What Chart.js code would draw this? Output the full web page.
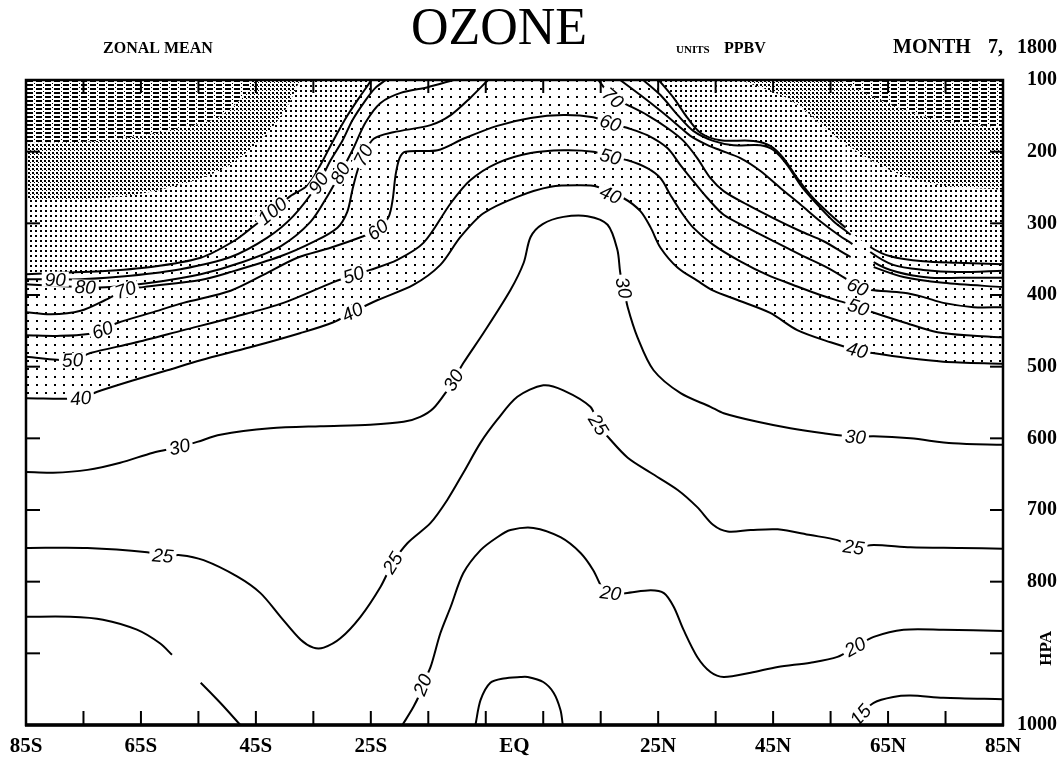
<!DOCTYPE html>
<html>
<head>
<meta charset="utf-8">
<title>Ozone zonal mean</title>
<script src="https://cdn.jsdelivr.net/npm/chart.js@4.4.1/dist/chart.umd.min.js"></script>
<style>
  html, body { margin: 0; padding: 0; background: #fff; }
  #wrap { width: 1062px; height: 761px; }
</style>
</head>
<body>
<div id="wrap"><canvas id="c" width="1062" height="761"></canvas></div>
<script>
// ---- axes ----------------------------------------------------------------
const latTicks = [-85, -65, -45, -25, 0, 25, 45, 65, 85];
const latTickLabels = ['85S', '65S', '45S', '25S', 'EQ', '25N', '45N', '65N', '85N'];
const latMinorTicks = [-75, -65, -55, -45, -35, -25, -15, -5, 5, 15, 25, 35, 45, 55, 65, 75];
const pressureTicks = [100, 200, 300, 400, 500, 600, 700, 800, 900, 1000];
const pressureTickLabels = ['100', '200', '300', '400', '500', '600', '700', '800', 'HPA', '1000'];

// ---- contour lines: [latitude, pressure hPa] ------------------------------
const c100West = [[-85,371],[-79,369],[-72,367],[-63.3,361],[-54.6,348],[-48.9,325],[-45.4,304],[-42.1,283],[-39,262],[-36,247],[-33.8,219],[-31.5,184],[-29.1,150],[-26.8,122],[-25.4,106],[-24.9,100]];
const c100East = [[25.1,100],[27.7,125],[30.1,153],[32.4,174],[35.8,184],[41.6,185],[44.5,192],[46.8,209],[49.2,237],[52,265],[55,288],[57.6,306],[61.9,333],[65.4,346],[71.1,353],[77,355],[85,357]];
const c90West = [[-85,378],[-79.9,378],[-75.5,378],[-66.8,373],[-58.1,364],[-49.4,347],[-43,320],[-38.5,290],[-34.1,244],[-32,212],[-29.9,184],[-28.2,156],[-25.9,128],[-24.2,111],[-22.4,100]];
const c90East = [[22.4,100],[25.4,121],[28.4,149],[31.1,171],[34.6,185],[38.1,191],[42.8,191],[45.1,198],[47.5,219],[49.8,247],[52.7,274],[55.5,297],[58.5,316],[61.9,340],[65.9,358],[71.1,365],[77,368],[85,366]];
const c80West = [[-85,385],[-74.7,389],[-70.3,389],[-63.3,383],[-54.6,371],[-47.7,355],[-40.7,332],[-35.5,298],[-32.4,260],[-30.3,230],[-28.2,198],[-25.9,159],[-23.3,132],[-19.8,118],[-15.1,110],[-10.6,100]];
const c80East = [[18.4,100],[21.9,121],[25.4,143],[28.4,163],[30.6,178],[33.6,191],[35.8,198],[39.3,209],[42.8,227],[46.3,251],[49.8,274],[53.2,297],[56.7,318],[58.8,329],[62.5,354],[66.6,368],[72.4,376],[77.6,376],[85,376]];
const c70West = [[-85,424],[-80.7,427],[-75.5,422],[-71.2,407],[-67.7,393],[-64.6,389],[-54.6,379],[-49.4,368],[-40.7,346],[-35,326],[-30.8,306],[-29.1,284],[-28.2,253],[-27.3,226],[-26.3,205],[-24.5,182],[-21.1,173],[-14.6,163],[-11.1,149],[-7.7,125],[-4.6,100]];
const c70East = [[14.6,100],[17.1,125],[19.7,135],[23.1,149],[26.6,167],[29.4,185],[31.8,209],[34.1,237],[36.4,255],[40.5,274],[45.1,293],[49.8,311],[53.8,325],[58.5,347],[62.5,361],[67.7,375],[74.6,383],[85,389]];
const c60 = [[-85,456],[-79,457],[-73.8,454],[-71.7,449],[-69.1,439],[-63.3,425],[-57.6,411],[-49.4,394],[-43.7,372],[-37.8,348],[-32,334],[-26.3,318],[-23.8,309],[-21.9,291],[-21.2,267],[-20.7,233],[-20,209],[-19,200],[-13.4,198],[-8.9,182],[-3,164],[2.8,153],[8.5,149],[13.7,152],[16.7,160],[19.7,167],[23.1,177],[26.6,195],[28.9,219],[31.1,241],[33.6,265],[36.4,288],[40.5,306],[45.1,325],[49.8,344],[54.5,362],[58,379],[59.7,389],[62,393],[67.7,397],[71.2,403],[74.6,411],[79.9,417],[85,417]];
const c50 = [[-85,486],[-76.9,491],[-73.8,481],[-66.3,467],[-57.6,449],[-48.9,431],[-40.2,411],[-31.5,382],[-28,372],[-25.1,365],[-20.4,351],[-15.8,327],[-11.1,272],[-7.7,240],[-3,216],[2.8,202],[8.5,198],[13.7,200],[16.7,207],[19.7,212],[23.1,223],[25.4,237],[27.1,260],[28.9,283],[31.1,306],[34.6,330],[39.3,353],[44,372],[48.5,386],[53.2,400],[57.2,410],[59.8,417],[62.3,424],[67.7,438],[73.6,452],[79.9,457],[85,459]];
const c40 = [[-85,544],[-75.5,544],[-72.6,535],[-66.3,519],[-60.4,505],[-54.6,491],[-46,473],[-37.2,453],[-31.5,438],[-28.2,424],[-23.8,407],[-17.6,386],[-12.9,358],[-9.4,319],[-5.4,286],[0.5,263],[6.3,249],[11.5,247],[14.4,249],[16.7,260],[19,265],[21.9,283],[23.7,306],[25.4,334],[28.4,362],[31.8,380],[34.6,394],[38.8,407],[44.5,425],[49.2,449],[55,466],[59.6,477],[62.3,481],[68.4,488],[74.6,493],[85,496]];
const c30 = [[-85,647],[-80.3,648],[-74.3,644],[-68.6,634],[-62.9,620],[-58.3,612],[-55.2,605],[-51.2,595],[-42.5,586],[-33.8,583],[-25.1,581],[-19.3,577],[-16.4,570],[-14.1,558],[-11.7,533],[-10.6,519],[-8.9,495],[-5.4,453],[-0.7,393],[1.6,355],[2.8,319],[4.9,301],[8.5,291],[12.7,290],[16.2,302],[17.9,337],[18.4,369],[19,390],[19.7,417],[21.4,459],[24.2,505],[28.9,537],[34.1,556],[36.4,565],[42.3,577],[48,586],[53.8,593],[59.3,598],[62.5,597],[68.9,600],[76.3,607],[85,609]];
const c25 = [[-85,753],[-74.3,753],[-63.9,759],[-61.2,764],[-58.1,763],[-54.1,770],[-48.2,793],[-44.2,816],[-40.7,849],[-37.2,881],[-35,892],[-33.2,892],[-30.3,879],[-26.8,849],[-23.3,807],[-21.2,774],[-18.6,746],[-14.6,718],[-11.7,686],[-8.9,648],[-5.9,606],[-3,574],[0.5,542],[5,526],[8.5,533],[13.2,556],[14.6,581],[16.7,602],[19.7,627],[23.7,648],[28.4,672],[31.8,696],[34.6,721],[37.1,730],[41.1,728],[45.8,727],[51.5,735],[56.2,742],[59,752],[62.5,749],[68.9,752],[77.6,753],[85,754]];
const c20West = [[-85,849],[-77.3,849],[-71.6,853],[-65.7,867],[-61.7,886],[-59.6,902],[-54.6,941],[-51.2,969],[-47.7,1000]];
const c20East = [[-19.5,1000],[-17.6,975],[-16.4,955],[-16,944],[-14.6,919],[-12.9,872],[-11.1,835],[-8.9,788],[-5.9,756],[-3,738],[-0.7,728],[3.3,725],[8,738],[11.5,760],[13.7,784],[15.5,812],[16.7,816],[19.3,816],[23.7,812],[26,816],[27.7,835],[29.4,867],[31.8,905],[34.1,926],[36.4,933],[41.1,927],[45.8,919],[51.5,913],[56.2,905],[59.3,891],[62.5,877],[67.7,867],[74.6,867],[85,869]];
const c15Center = [[-6.8,1000],[-5.9,965],[-4.2,941],[-1.9,935],[1,933],[2.3,933],[5,940],[6.8,955],[8,979],[8.4,1000]];
const c15East = [[59,1000],[60.2,986],[62.5,969],[65.9,961],[68.9,959],[74.6,962],[85,964]];

// ---- edges of the denser stipple bands above the 100 ppbv line -----------
const denseWest = [[-85,267],[-72,265],[-61.6,253],[-51.2,226],[-44.2,184],[-39.9,142],[-37.3,100]];
const denseEast = [[39.3,100],[48,128],[56.7,184],[65.4,226],[74.1,247],[85,253]];
const darkWest = [[-85,188],[-70.9,184],[-58.2,167],[-51.8,153],[-47.8,128],[-45.2,100]];
const darkEast = [[56.7,100],[63.7,128],[72.4,153],[85,167]];

// ---- stipple patterns ------------------------------------------------------
const canvas = document.getElementById('c');
const g = canvas.getContext('2d');
function makePattern(w, h, rects) {
  const t = document.createElement('canvas');
  t.width = w; t.height = h;
  const tc = t.getContext('2d');
  tc.fillStyle = '#fff';
  tc.fillRect(0, 0, w, h);
  tc.fillStyle = '#000';
  rects.forEach(r => tc.fillRect(r[0], r[1], r[2], r[3]));
  return g.createPattern(t, 'repeat');
}
const patterns = {
  sparse: makePattern(9, 8, [[0, 0, 2, 2]]),
  medium: makePattern(5, 5, [[0, 0, 2, 2]]),
  dense: makePattern(4, 4, [[0, 0, 2, 2], [2, 2, 1, 1]]),
  dark: makePattern(9, 4, [[0, 0, 6, 2], [7, 3, 1, 1]])
};
const shadeOrder = { sparse: 4, medium: 3, dense: 2, dark: 1 };

const contours = [
  { level: 100, pts: c100West, labelsAt: [-42.1], gaps: [], shade: 'medium' },
  { level: 100, pts: c100East, labelsAt: [], gaps: [[57.6, 61.9]], shade: 'medium' },
  { level: 90, pts: c90West, labelsAt: [-79.9, -34.1], gaps: [] },
  { level: 90, pts: c90East, labelsAt: [], gaps: [[58.5, 61.9]] },
  { level: 80, pts: c80West, labelsAt: [-74.7, -30.3], gaps: [] },
  { level: 80, pts: c80East, labelsAt: [], gaps: [[58.8, 62.5]] },
  { level: 70, pts: c70West, labelsAt: [-67.7, -26.3], gaps: [] },
  { level: 70, pts: c70East, labelsAt: [17.1], gaps: [[58.5, 62.5]] },
  { level: 60, pts: c60, labelsAt: [-71.7, -23.8, 16.7, 59.7], gaps: [] },
  { level: 50, pts: c50, labelsAt: [-76.9, -28, 16.7, 59.8], gaps: [] },
  { level: 40, pts: c40, labelsAt: [-75.5, -28.2, 16.7, 59.6], gaps: [], shade: 'sparse' },
  { level: 30, pts: c30, labelsAt: [-58.3, -10.6, 19, 59.3], gaps: [] },
  { level: 25, pts: c25, labelsAt: [-61.2, -21.2, 14.6, 59], gaps: [] },
  { level: 20, pts: c20West, labelsAt: [], gaps: [[-59.6, -54.6]] },
  { level: 20, pts: c20East, labelsAt: [-16, 16.7, 59.3], gaps: [] },
  { level: 15, pts: c15Center, labelsAt: [], gaps: [] },
  { level: 15, pts: c15East, labelsAt: [60.2], gaps: [] }
];
const bandEdges = [
  { pts: denseWest, shade: 'dense' }, { pts: denseEast, shade: 'dense' },
  { pts: darkWest, shade: 'dark' }, { pts: darkEast, shade: 'dark' }
];

const toXY = pts => pts.map(([lat, p]) => ({ x: lat, y: p }));
const inGap = (gaps, a, b) => gaps.some(([s, e]) => a >= s - 1e-6 && b <= e + 1e-6);

const datasets = [];
contours.forEach(c => {
  datasets.push({
    data: toXY(c.pts),
    borderColor: '#000',
    borderWidth: 2,
    pointRadius: 0,
    tension: 0.3,
    fill: c.shade ? { value: 100 } : false,
    backgroundColor: c.shade ? patterns[c.shade] : 'transparent',
    order: c.shade ? shadeOrder[c.shade] : 0,
    segment: {
      borderColor: ctx => inGap(c.gaps, ctx.p0.parsed.x, ctx.p1.parsed.x) ? 'rgba(0,0,0,0)' : '#000'
    }
  });
});
bandEdges.forEach(b => {
  datasets.push({
    data: toXY(b.pts),
    borderColor: 'rgba(0,0,0,0)',
    borderWidth: 0,
    pointRadius: 0,
    tension: 0.3,
    fill: { value: 100 },
    backgroundColor: patterns[b.shade],
    order: shadeOrder[b.shade]
  });
});

const serifBold = size => ({ family: '"Liberation Serif", "DejaVu Serif", serif', size: size, weight: 'bold' });

// contour value labels, cut into their lines
const contourLabels = {
  id: 'contourLabels',
  afterDatasetsDraw(chart) {
    const { ctx, chartArea: a, scales: { x, y } } = chart;
    ctx.save();
    ctx.beginPath();
    ctx.rect(a.left, a.top, a.right - a.left, a.bottom - a.top);
    ctx.clip();
    ctx.font = 'italic 19px "Liberation Sans", sans-serif';
    ctx.textAlign = 'center';
    ctx.textBaseline = 'middle';
    contours.forEach(c => {
      c.labelsAt.forEach(lat => {
        let i = 0, best = Infinity;
        c.pts.forEach((pt, k) => { const d = Math.abs(pt[0] - lat); if (d < best) { best = d; i = k; } });
        const p0 = c.pts[Math.max(i - 1, 0)], p1 = c.pts[Math.min(i + 1, c.pts.length - 1)];
        const px = x.getPixelForValue(c.pts[i][0]), py = y.getPixelForValue(c.pts[i][1]);
        let ang = Math.atan2(y.getPixelForValue(p1[1]) - y.getPixelForValue(p0[1]),
                             x.getPixelForValue(p1[0]) - x.getPixelForValue(p0[0]));
        if (ang > Math.PI / 2) ang -= Math.PI;
        if (ang < -Math.PI / 2) ang += Math.PI;
        const text = String(c.level);
        const w = ctx.measureText(text).width;
        ctx.save();
        ctx.translate(px, py);
        ctx.rotate(ang);
        ctx.fillStyle = '#fff';
        ctx.fillRect(-w / 2 - 3, -7.5, w + 6, 15);
        ctx.fillStyle = '#000';
        ctx.fillText(text, 0, 1);
        ctx.restore();
      });
    });
    ctx.restore();
  }
};

// frame, inner tick marks, heading and the rotated unit label
const frameAndText = {
  id: 'frameAndText',
  afterDraw(chart) {
    const { ctx, chartArea: a, scales: { x, y } } = chart;
    const seg = (x1, y1, x2, y2) => { ctx.beginPath(); ctx.moveTo(x1, y1); ctx.lineTo(x2, y2); ctx.stroke(); };
    ctx.save();
    ctx.strokeStyle = '#000';
    ctx.lineWidth = 2;
    latMinorTicks.forEach(v => {
      const px = x.getPixelForValue(v);
      seg(px, a.bottom, px, a.bottom - 14);
      seg(px, a.top, px, a.top + 13);
    });
    pressureTicks.slice(1, -1).forEach(v => {
      const py = y.getPixelForValue(v);
      seg(a.left, py, a.left + 14, py);
      seg(a.right, py, a.right - 13, py);
    });
    ctx.lineWidth = 2.5;
    ctx.strokeRect(a.left, a.top, a.right - a.left, a.bottom - a.top);
    ctx.lineWidth = 3.5;
    seg(a.left - 1, a.bottom, a.right + 1, a.bottom);

    ctx.fillStyle = '#000';
    ctx.textBaseline = 'alphabetic';
    ctx.font = '52px "Liberation Serif", serif';
    ctx.textAlign = 'center';
    ctx.fillText('OZONE', 499, 44);
    ctx.font = 'bold 16px "Liberation Serif", serif';
    ctx.fillText('ZONAL MEAN', 158, 53);
    ctx.textAlign = 'left';
    ctx.font = 'bold 11px "Liberation Serif", serif';
    ctx.fillText('UNITS', 676, 53);
    ctx.font = 'bold 16px "Liberation Serif", serif';
    ctx.fillText('PPBV', 724, 53);
    ctx.font = 'bold 20px "Liberation Serif", serif';
    ctx.fillText('MONTH', 893, 53);
    ctx.fillText('7,', 988, 53);
    ctx.textAlign = 'right';
    ctx.fillText('1800', 1057, 53);

    const hpaIndex = pressureTickLabels.indexOf('HPA');
    const hy = y.getPixelForValue(pressureTicks[hpaIndex]);
    ctx.save();
    ctx.translate(1047, hy - 5);
    ctx.rotate(-Math.PI / 2);
    ctx.textAlign = 'center';
    ctx.textBaseline = 'middle';
    ctx.font = 'bold 17px "Liberation Serif", serif';
    ctx.fillText(pressureTickLabels[hpaIndex], 0, 0);
    ctx.restore();
    ctx.restore();
  }
};

new Chart(canvas, {
  type: 'line',
  data: { datasets },
  options: {
    responsive: false,
    animation: false,
    devicePixelRatio: 1,
    events: [],
    layout: { padding: { left: 26, top: 80, right: 5, bottom: 0 } },
    plugins: {
      legend: { display: false },
      tooltip: { enabled: false },
      filler: { drawTime: 'beforeDatasetsDraw', propagate: false }
    },
    scales: {
      x: {
        type: 'linear',
        min: -85, max: 85,
        grid: { display: false, drawTicks: false },
        border: { display: false },
        afterBuildTicks: s => { s.ticks = latTicks.map(v => ({ value: v })); },
        afterFit: s => { s.height = 36; },
        ticks: {
          autoSkip: false, maxRotation: 0, padding: 9, color: '#000',
          font: serifBold(21),
          callback: (v, i) => latTickLabels[i]
        }
      },
      y: {
        type: 'linear',
        position: 'right',
        min: 100, max: 1000,
        reverse: true,
        grid: { display: false, drawTicks: false },
        border: { display: false },
        afterBuildTicks: s => { s.ticks = pressureTicks.map(v => ({ value: v })); },
        afterFit: s => { s.width = 54; },
        ticks: {
          autoSkip: false, padding: 12, crossAlign: 'far', color: '#000',
          font: serifBold(20),
          callback: (v, i) => pressureTickLabels[i] === 'HPA' ? '' : pressureTickLabels[i]
        }
      }
    }
  },
  plugins: [contourLabels, frameAndText]
});
</script>
</body>
</html>
